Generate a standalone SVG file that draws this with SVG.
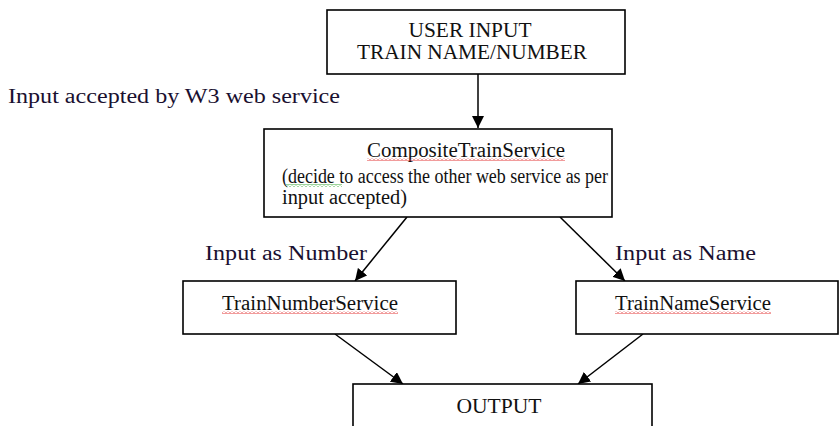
<svg xmlns="http://www.w3.org/2000/svg" width="839" height="426" viewBox="0 0 839 426">
<defs>
<style>
.box{fill:#fff;stroke:#000;stroke-width:1.6}
.t{font-family:"Liberation Serif","Times New Roman",serif;font-size:20px;fill:#111}
.lbl{font-family:"Liberation Serif","Times New Roman",serif;font-size:20px;fill:#1a1030}
.conn{stroke:#000;stroke-width:1.5;fill:none;marker-end:url(#ah)}
</style>
<marker id="ah" viewBox="0 0 10 10" refX="10" refY="5" markerWidth="12" markerHeight="12" markerUnits="userSpaceOnUse" orient="auto">
<path d="M0,0 L10,5 L0,10 z" fill="#000"/>
</marker>
<pattern id="sqr" width="4" height="3" patternUnits="userSpaceOnUse">
<path d="M0,2.5 L2,0.5 L4,2.5" stroke="#e02020" stroke-width="0.9" fill="none"/>
</pattern>
<pattern id="sqg" width="4" height="3" patternUnits="userSpaceOnUse">
<path d="M0,2.5 L2,0.5 L4,2.5" stroke="#20a020" stroke-width="0.9" fill="none"/>
</pattern>
</defs>
<rect width="839" height="426" fill="#fff"/>

<text class="lbl" x="8" y="103" textLength="332" lengthAdjust="spacingAndGlyphs">Input accepted by W3 web service</text>

<g id="connectors">
<line class="conn" x1="478" y1="74" x2="478" y2="128"/>
<line class="conn" x1="407" y1="217" x2="355" y2="281"/>
<line class="conn" x1="560" y1="217" x2="625" y2="281"/>
<line class="conn" x1="335" y1="334" x2="403" y2="384"/>
<line class="conn" x1="643" y1="334" x2="578" y2="384"/>
</g>

<g id="user-input">
<rect class="box" x="327" y="10" width="298" height="64"/>
<text class="t" x="470" y="37" text-anchor="middle" textLength="123" lengthAdjust="spacingAndGlyphs">USER INPUT</text>
<text class="t" x="472" y="59" text-anchor="middle" textLength="230" lengthAdjust="spacingAndGlyphs">TRAIN NAME/NUMBER</text>
</g>

<g id="composite-train-service">
<rect class="box" x="264" y="129" width="348" height="88"/>
<text class="t" x="367" y="157" textLength="198" lengthAdjust="spacingAndGlyphs">CompositeTrainService</text>
<rect x="367" y="158" width="198" height="3" fill="url(#sqr)"/>
<text class="t" x="282" y="183" textLength="326" lengthAdjust="spacingAndGlyphs">(decide to access the other web service as per</text>
<rect x="286" y="184" width="56" height="3" fill="url(#sqg)"/>
<text class="t" x="282" y="204" textLength="125" lengthAdjust="spacingAndGlyphs">input accepted)</text>
</g>

<text class="lbl" x="205" y="260" textLength="162" lengthAdjust="spacingAndGlyphs">Input as Number</text>
<text class="lbl" x="615" y="260" textLength="141" lengthAdjust="spacingAndGlyphs">Input as Name</text>

<g id="train-number-service">
<rect class="box" x="183" y="281" width="273" height="53"/>
<text class="t" x="222" y="310" textLength="176" lengthAdjust="spacingAndGlyphs">TrainNumberService</text>
<rect x="222" y="311" width="176" height="3" fill="url(#sqr)"/>
</g>

<g id="train-name-service">
<rect class="box" x="576" y="281" width="262" height="53"/>
<text class="t" x="615" y="310" textLength="156" lengthAdjust="spacingAndGlyphs">TrainNameService</text>
<rect x="615" y="311" width="156" height="3" fill="url(#sqr)"/>
</g>

<g id="output">
<rect class="box" x="353" y="384" width="299" height="60"/>
<text class="t" x="499" y="413" text-anchor="middle" textLength="85" lengthAdjust="spacingAndGlyphs">OUTPUT</text>
</g>
</svg>
